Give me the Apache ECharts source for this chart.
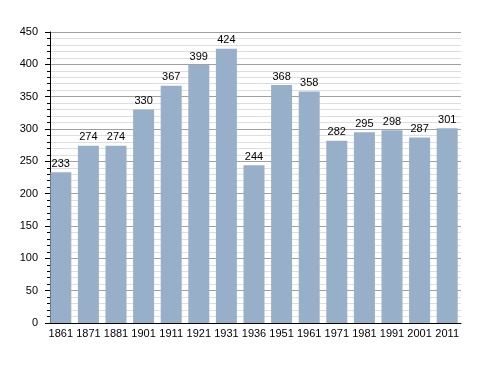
<!DOCTYPE html>
<html>
<head>
<meta charset="utf-8">
<script src="https://cdn.jsdelivr.net/npm/echarts@6/dist/echarts.min.js"></script>
<style>html,body{margin:0;padding:0;background:#fff}#c{width:488px;height:373px}</style>
</head>
<body>
<div id="c"></div>
<script>
var years = ['1861','1871','1881','1901','1911','1921','1931','1936','1951','1961','1971','1981','1991','2001','2011'];
var population = [233,274,274,330,367,399,424,244,368,358,282,295,298,287,301];
var yTicks = [0,50,100,150,200,250,300,350,400,450];

var chart = echarts.init(document.getElementById('c'), null, {renderer:'canvas'});
chart.setOption({
  animation: false,
  backgroundColor: '#fff',
  textStyle: {fontFamily: 'Liberation Sans, Arial, sans-serif'},
  grid: {left: 47, right: 27, top: 32, bottom: 50, containLabel: false},
  xAxis: {
    type: 'category',
    data: years,
    boundaryGap: true,
    axisLine: {show: true, lineStyle: {color: '#000', width: 1}},
    axisTick: {show: false},
    axisLabel: {color: '#000', fontSize: 11, margin: 5, interval: 0, fontFamily: 'Liberation Sans, Arial, sans-serif'}
  },
  yAxis: {
    type: 'value',
    min: yTicks[0],
    max: yTicks[yTicks.length-1],
    interval: 50,
    offset: -3,
    axisLine: {show: true, lineStyle: {color: '#000', width: 1}},
    axisTick: {show: true, length: 5, lineStyle: {color: '#000'}},
    minorTick: {show: true, splitNumber: 5, length: 3, lineStyle: {color: '#000'}},
    splitLine: {show: true, lineStyle: {color: '#a0a0a0', width: 1}},
    minorSplitLine: {show: true, lineStyle: {color: '#dedede', width: 1}},
    axisLabel: {color: '#000', fontSize: 11, margin: 12, fontFamily: 'Liberation Sans, Arial, sans-serif'}
  },
  series: [{
    type: 'bar',
    data: population,
    barWidth: 21,
    itemStyle: {color: '#98afca'},
    label: {show: true, position: 'top', distance: 3, color: '#000', fontSize: 11, fontFamily: 'Liberation Sans, Arial, sans-serif'}
  }]
});
</script>
</body>
</html>
